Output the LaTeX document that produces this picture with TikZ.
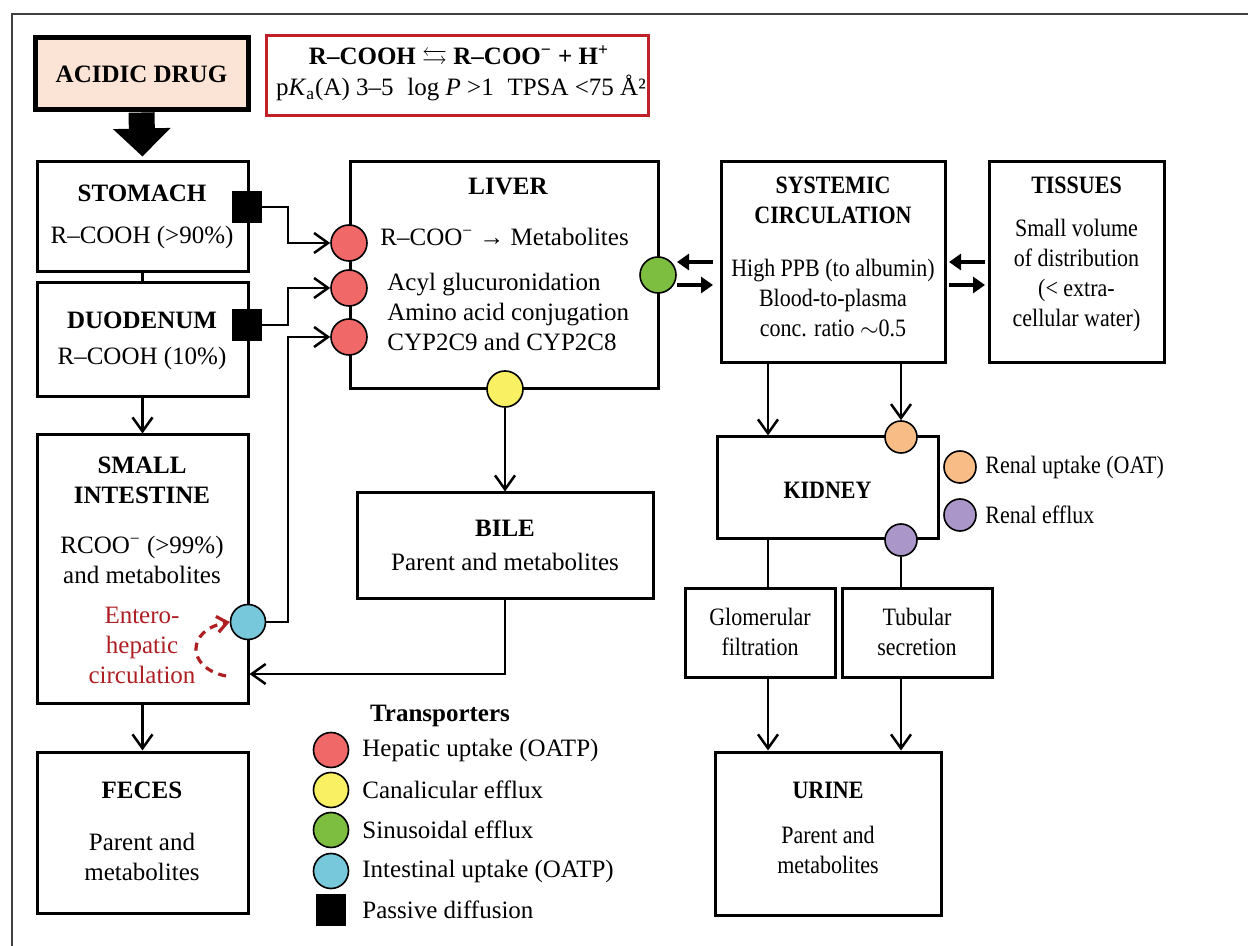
\documentclass[tikz,border=0pt]{standalone}
\usepackage{amssymb}
\usepackage{fontspec}
\setmainfont{Liberation Serif}
\newfontfamily\narrowserif[FakeStretch=0.88]{Liberation Serif}
\usetikzlibrary{arrows.meta}

\definecolor{peach}{RGB}{251,228,213}
\definecolor{formred}{RGB}{192,32,40}
\definecolor{hepred}{RGB}{240,104,104}
\definecolor{canyel}{RGB}{250,240,100}
\definecolor{sinugreen}{RGB}{125,190,65}
\definecolor{intcyan}{RGB}{120,200,220}
\definecolor{renorange}{RGB}{248,188,135}
\definecolor{renpurple}{RGB}{170,150,200}
\definecolor{ehred}{RGB}{175,30,35}

\tikzset{
  wh/.style 2 args={minimum width=#1*0.5pt, minimum height=#2*0.5pt},
  box/.style={draw, line width=1.5pt, inner sep=0pt, fill=white},
  txt/.style={font=\fontsize{12.5}{15}\selectfont, align=center, inner sep=0pt},
  ttl/.style={txt, font=\fontsize{12.5}{15}\selectfont\bfseries},
  ntxt/.style={txt, font=\fontsize{12.5}{15}\narrowserif},
  nttl/.style={txt, font=\fontsize{12.5}{15}\narrowserif\bfseries},
  conn/.style={line width=1.25pt},
  arr/.style={conn, -{Straight Barb[length=7pt,width=10pt]}},
  barr/.style={line width=1.6pt, -{Triangle[length=6pt,width=8pt]}},
  tport/.style={circle, draw, line width=0.8pt, inner sep=0pt, minimum size=18pt},
  smalltport/.style={tport, minimum size=16pt},
  passive/.style={rectangle, fill=black, inner sep=0pt, minimum width=15pt, minimum height=16pt},
}

\begin{document}
\begin{tikzpicture}[x=0.5pt,y=-0.5pt]
\useasboundingbox (0,0) rectangle (1248,946);

% page frame
\draw[line width=1pt, black!75] (12,946) -- (12,14) -- (1248,14);

% ---------- boxes ----------
\node[box, line width=2.5pt, fill=peach, wh={213}{72}] (drug) at (141.5,74) {};
\node[box, draw=formred, line width=1.5pt, wh={382}{80}] (formula) at (457,76) {};
\node[box, wh={211}{110}] (stomach) at (142.5,217) {};
\node[box, wh={211}{114}] (duod) at (142.5,340) {};
\node[box, wh={211}{268}] (si) at (142.5,569) {};
\node[box, wh={211}{161}] (feces) at (142.5,832.5) {};
\node[box, wh={308}{227}] (liver) at (504,275.5) {};
\node[box, wh={296}{105}] (bile) at (505,545.5) {};
\node[box, wh={224}{201}] (sys) at (833,262.5) {};
\node[box, wh={175}{201}] (tis) at (1076.5,262.5) {};
\node[box, wh={221}{102}] (kid) at (827.5,488) {};
\node[box, wh={150}{89}] (glom) at (760,632.5) {};
\node[box, wh={150}{89}] (tub) at (917,632.5) {};
\node[box, wh={226}{163}] (urine) at (828,833.5) {};

% ---------- texts ----------
\node[ttl] (tdrug) at (141.5,74) {ACIDIC DRUG};
\node[ttl] (tf1) at (459,57) {R–COOH $\leftrightarrows$ R–COO\textsuperscript{−} + H\textsuperscript{+}};
\node[txt] (tf2) at (461,88) {p\textit{K}\textsubscript{a}(A) 3–5\hspace{0.55em}log \textit{P} >1\hspace{0.55em}TPSA <75 Å²};

\node[ttl] (tst1) at (142,193) {STOMACH};
\node[txt] (tst2) at (142,237) {R–COOH (>90\%)};
\node[ttl] (tdu1) at (142,320) {DUODENUM};
\node[txt] (tdu2) at (142,358) {R–COOH (10\%)};
\node[ttl] (tsi1) at (142,480) {SMALL\\INTESTINE};
\node[txt] (tsi2) at (142,560) {RCOO\textsuperscript{−} (>99\%)\\and metabolites};
\node[txt, text=ehred] (tsi3) at (142,645) {Entero-\\hepatic\\circulation};
\node[ttl] (tfe1) at (142,790) {FECES};
\node[txt] (tfe2) at (142,857) {Parent and\\metabolites};

\node[ttl] (tli1) at (508,187) {LIVER};
\node[txt, anchor=west] (tli2) at (380,237) {R–COO\textsuperscript{−} → Metabolites};
\node[txt, align=left, anchor=west] (tli3) at (387,312) {Acyl glucuronidation\\Amino acid conjugation\\CYP2C9 and CYP2C8};
\node[ttl] (tbi1) at (505,528) {BILE};
\node[txt] (tbi2) at (505,562) {Parent and metabolites};

\node[nttl] (tsy1) at (833,200) {SYSTEMIC\\CIRCULATION};
\node[ntxt] (tsy2) at (833,298) {High PPB (to albumin)\\Blood-to-plasma\\conc. ratio $\sim$0.5};
\node[nttl] (tti1) at (1076.5,185) {TISSUES};
\node[ntxt] (tti2) at (1076.5,275) {Small volume\\of distribution\\(< extra-\\cellular water)};
\node[nttl] (tki) at (827.5,490) {KIDNEY};
\node[ntxt] (tgl) at (760,632) {Glomerular\\filtration};
\node[ntxt] (ttu) at (917,632) {Tubular\\secretion};
\node[nttl] (tur1) at (828,790) {URINE};
\node[ntxt] (tur2) at (828,850) {Parent and\\metabolites};

% ---------- connectors ----------
\coordinate (elb) at (288,0);
\coordinate (kx1) at (768,0);
\coordinate (kx2) at (901,0);
\coordinate (bj) at (505,674);

\draw[line width=13pt, -{Triangle[length=14pt,width=28pt]}, shorten >=2pt]
  (drug.south) -- (stomach.north);

\draw[conn] (stomach.south) -- (duod.north);
\draw[arr] (duod.south) -- (si.north);
\draw[arr] (si.south) -- (feces.north);

% transporter markers
\node[passive] (sq1) at (247,207) {};
\node[passive] (sq2) at (247,325) {};
\node[tport, fill=hepred] (c1) at (349,243) {};
\node[tport, fill=hepred] (c2) at (349,288) {};
\node[tport, fill=hepred] (c3) at (349,337) {};
\node[tport, fill=sinugreen] (green) at (658,275) {};
\node[tport, fill=canyel] (yel) at (505,389) {};
\node[tport, fill=intcyan, minimum size=17.5pt] (cy) at (248,622) {};
\node[smalltport, fill=renorange] (orng) at (901,437) {};
\node[smalltport, fill=renpurple] (purp) at (901,540) {};

\draw[arr] (sq1.east) -- (sq1.east -| elb) |- (c1.west);
\draw[arr] (sq2.east) -- (sq2.east -| elb) |- (c2.west);
\draw[arr] (cy.east) -- (cy.east -| elb) |- (c3.west);

\draw[arr] (yel.south) -- (bile.north);
\draw[arr] (bile.south) -- (bj) -- (si.east |- bj);

% enterohepatic loop
\coordinate (ehs) at (226,676);
\draw[ehred, line width=1.6pt, dash pattern=on 4pt off 3pt,
      -{Straight Barb[length=5pt,width=8pt]}]
  (ehs) .. controls (186,668) and (186,630) .. (cy.west);

% liver <-> systemic <-> tissues
\coordinate (la1) at (713,262); \coordinate (la2) at (677,262);
\coordinate (lb1) at (677,285); \coordinate (lb2) at (713,285);
\coordinate (ta1) at (985,262); \coordinate (ta2) at (949,262);
\coordinate (tb1) at (949,285); \coordinate (tb2) at (985,285);
\draw[barr] (la1) -- (la2);
\draw[barr] (lb1) -- (lb2);
\draw[barr] (ta1) -- (ta2);
\draw[barr] (tb1) -- (tb2);

% renal branch
\draw[arr] (sys.south -| kx1) -- (kid.north -| kx1);
\draw[arr] (sys.south -| kx2) -- (orng.north);
\draw[conn] (kid.south -| kx1) -- (glom.north -| kx1);
\draw[conn] (purp.south) -- (tub.north -| kx2);
\draw[arr] (glom.south -| kx1) -- (urine.north -| kx1);
\draw[arr] (tub.south -| kx2) -- (urine.north -| kx2);

% renal legend
\node[smalltport, fill=renorange] (lgor) at (960,467) {};
\node[ntxt, anchor=west] (lgort) at (985,467) {Renal uptake (OAT)};
\node[smalltport, fill=renpurple] (lgpu) at (960,515) {};
\node[ntxt, anchor=west] (lgput) at (985,515) {Renal efflux};

% transporter legend
\node[ttl] (lgt) at (440,716) {Transporters};
\node[tport, fill=hepred, minimum size=17.5pt] (lg1) at (331,750) {};
\node[txt, anchor=west] (lg1t) at (362,750) {Hepatic uptake (OATP)};
\node[tport, fill=canyel, minimum size=17.5pt] (lg2) at (331,790) {};
\node[txt, anchor=west] (lg2t) at (362,790) {Canalicular efflux};
\node[tport, fill=sinugreen, minimum size=17.5pt] (lg3) at (331,830) {};
\node[txt, anchor=west] (lg3t) at (362,830) {Sinusoidal efflux};
\node[tport, fill=intcyan, minimum size=17.5pt] (lg4) at (331,871) {};
\node[txt, anchor=west] (lg4t) at (362,871) {Intestinal uptake (OATP)};
\node[passive] (lg5) at (331,910) {};
\node[txt, anchor=west] (lg5t) at (362,910) {Passive diffusion};
\end{tikzpicture}
\end{document}
